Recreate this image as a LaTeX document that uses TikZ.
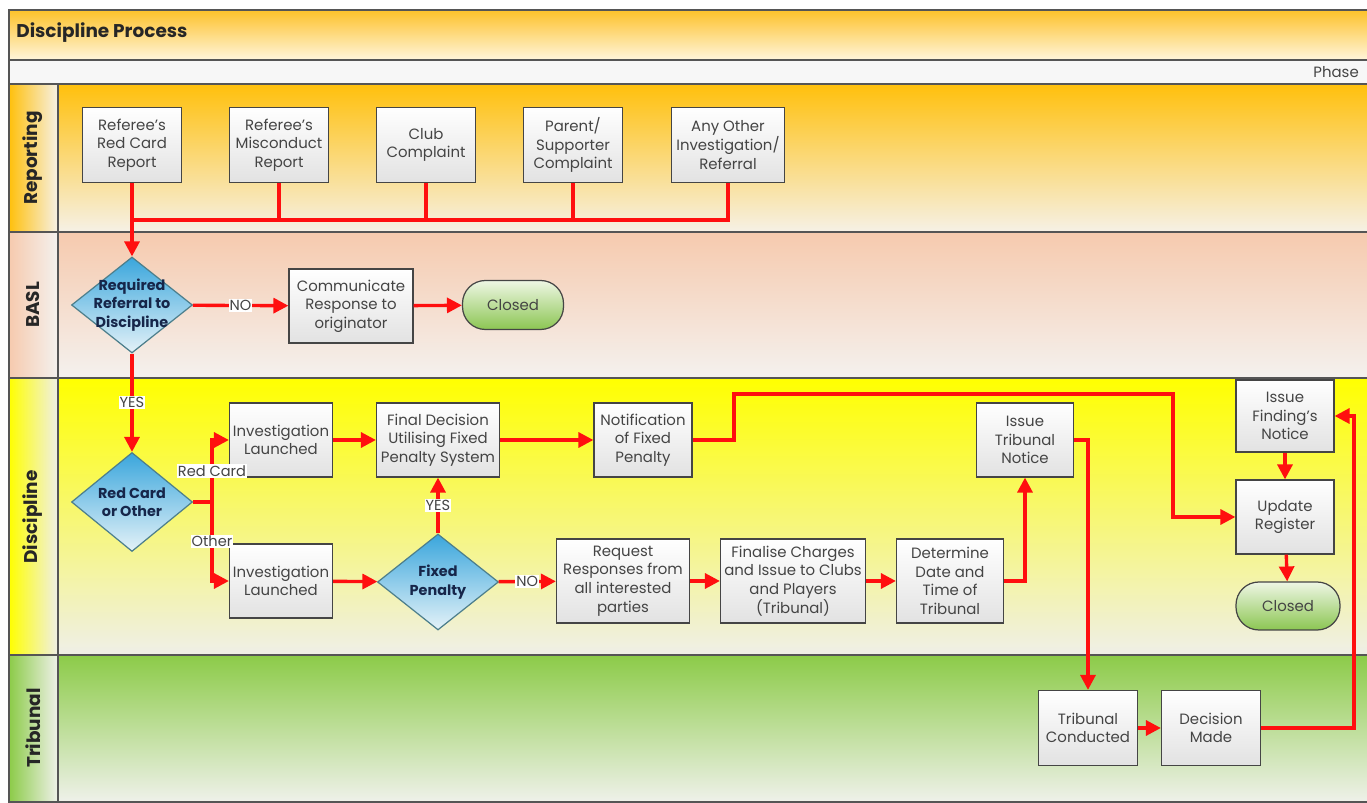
\documentclass[tikz,border=0pt]{standalone}
\usepackage{fontspec}
\setmainfont{Poppins}
\usetikzlibrary{shapes.geometric,arrows.meta,positioning}
\definecolor{flowred}{HTML}{FF0F0F}
\definecolor{boxline}{HTML}{454545}
\definecolor{boxgrey}{HTML}{E2E2E2}
\definecolor{boxtext}{HTML}{444444}
\definecolor{decblue}{HTML}{3AA6DC}
\definecolor{declight}{HTML}{E4F2F8}
\definecolor{decline}{HTML}{4D7F8C}
\definecolor{decnavy}{HTML}{16264A}
\definecolor{termgreen}{HTML}{8CC653}
\definecolor{termlight}{HTML}{EEF6E4}
\definecolor{frameline}{HTML}{555555}
\definecolor{titletop}{HTML}{FDC22A}
\definecolor{titlebot}{HTML}{FFF5DC}
\definecolor{reptop}{HTML}{FFC00C}
\definecolor{repbot}{HTML}{F6F1E6}
\definecolor{basltop}{HTML}{F6CAAE}
\definecolor{baslbot}{HTML}{F4F1EE}
\definecolor{disctop}{HTML}{FFFF00}
\definecolor{discmid}{HTML}{FAFA90}
\definecolor{discbot}{HTML}{EFEFE8}
\definecolor{tribtop}{HTML}{8CCB48}
\definecolor{tribbot}{HTML}{EFF1EA}
\tikzset{
  box/.style={draw=boxline, line width=0.7pt, top color=white, bottom color=boxgrey, text=boxtext,
    align=center, font=\fontsize{8.5}{10.6}\selectfont, minimum width=1.98cm, minimum height=1.5cm, inner sep=1pt},
  dec/.style={diamond, draw=decline, line width=0.7pt, top color=decblue, bottom color=declight,
    minimum width=2.42cm, minimum height=1.92cm, inner sep=0pt},
  dectext/.style={text=decnavy, align=center, font=\bfseries\fontsize{8.2}{10.5}\selectfont},
  term/.style={draw=boxline, line width=0.7pt, rounded corners=13pt, top color=termlight, bottom color=termgreen,
    text=boxtext, font=\fontsize{8.5}{10.6}\selectfont, minimum width=2.02cm, minimum height=0.98cm},
  wire/.style={draw=flowred, line width=1.9pt},
  flow/.style={wire, -{Triangle[length=8.5pt,width=8.5pt]}},
  lbl/.style={fill=white, inner sep=0.6pt, text=boxtext, font=\fontsize{8.3}{9}\selectfont},
  lanehead/.style={rotate=90, text=black!85, font=\bfseries\fontsize{10.5}{12}\selectfont},
  frame/.style={draw=frameline, line width=0.8pt}
}

\begin{document}
\begin{tikzpicture}[x=0.02cm,y=-0.02cm]
   \clip (0,0) rectangle (1367,803);
   \begin{scope}
    \path[top color=titletop, bottom color=titlebot] (9,10) rectangle (1380,60);
    \path[fill=white!97!black] (9,60) rectangle (1380,84);
    \path[top color=reptop, bottom color=repbot] (58,84) rectangle (1380,232);
    \path[top color=basltop, bottom color=baslbot] (58,232) rectangle (1380,378);
    \path[top color=disctop, middle color=discmid, bottom color=discbot] (58,378) rectangle (1380,655);
    \path[top color=tribtop, bottom color=tribbot] (58,655) rectangle (1380,802);
    \path[left color=reptop, right color=repbot] (9,84) rectangle (58,232);
    \path[left color=basltop, right color=baslbot] (9,232) rectangle (58,378);
    \path[left color=disctop, right color=discbot] (9,378) rectangle (58,655);
    \path[left color=tribtop, right color=tribbot] (9,655) rectangle (58,802);
    \draw[frame] (1380,10) -| (9,802) -- (1380,802);
    \foreach \y in {60,84,232,378,655} \draw[frame] (9,\y) -- (1380,\y);
    \draw[frame] (58,84) -- (58,802);
    \node[anchor=west, inner sep=0pt, text=black!85, font=\bfseries\fontsize{10.5}{12}\selectfont] (title) at (16,33) {Discipline Process};
    \node[anchor=east, text=boxtext, font=\fontsize{8.5}{10.6}\selectfont] (phase) at (1365,72) {Phase};
    \node[lanehead] (hrep)  at (33,158) {Reporting};
    \node[lanehead] (hbasl) at (33,305) {BASL};
    \node[lanehead] (hdisc) at (33,517) {Discipline};
    \node[lanehead] (htrib) at (33,728) {Tribunal};
   \end{scope}
   \begin{scope}
    \node[box] (r1) at (132,145) {Referee's\\Red Card\\Report};
    \node[box] (r2) at (279,145) {Referee's\\Misconduct\\Report};
    \node[box] (r3) at (426,145) {Club\\Complaint};
    \node[box] (r4) at (573,145) {Parent/\\Supporter\\Complaint};
    \node[box, minimum width=2.26cm] (r5) at (728,145) {Any Other\\Investigation/\\Referral};
    \coordinate (bus) at (0,220);
    \draw[wire] (r5.south) |- (r1 |- bus);
    \foreach \r in {r2,r3,r4} \draw[wire] (\r.south) -- (\r |- bus);
   \end{scope}
   \begin{scope}
    \node[dec, label={[dectext]center:{Required\\Referral to\\Discipline}}] (req) at (132,305) {};
    \node[box, minimum width=2.48cm, minimum height=1.48cm] (comm) at (351,306) {Communicate\\Response to\\originator};
    \node[term] (closedA) at (513,305) {Closed};
    \draw[flow] (r1) -- (req);
    \draw[flow] (req) -- node[lbl] {NO} (comm);
    \draw[flow] (comm) -- (closedA);
   \end{scope}
   \begin{scope}
    \node[dec, minimum height=1.98cm, label={[dectext]center:{Red Card\\or Other}}] (rco) at (132,502) {};
    \node[box, minimum width=2.06cm, minimum height=1.48cm] (inv1) at (281,440) {Investigation\\Launched};
    \node[box, minimum width=2.06cm, minimum height=1.48cm] (inv2) at (281,581) {Investigation\\Launched};
    \node[box, minimum width=2.46cm, minimum height=1.48cm] (fd) at (438,440) {Final Decision\\Utilising Fixed\\Penalty System};
    \node[box, minimum width=1.96cm, minimum height=1.48cm] (notif) at (643,440) {Notification\\of Fixed\\Penalty};
    \node[dec, label={[dectext]center:{Fixed\\Penalty}}] (fp) at (438,582) {};
    \node[box, minimum width=2.66cm, minimum height=1.68cm] (req2) at (623,581) {Request\\Responses from\\all interested\\parties};
    \node[box, minimum width=2.9cm, minimum height=1.68cm] (fin) at (793,581) {Finalise Charges\\and Issue to Clubs\\and Players\\(Tribunal)};
    \node[box, minimum width=2.14cm, minimum height=1.68cm] (det) at (950,581) {Determine\\Date and\\Time of\\Tribunal};
    \node[box, minimum width=1.94cm, minimum height=1.48cm] (tn) at (1025,440) {Issue\\Tribunal\\Notice};
    \node[box, minimum width=1.96cm, minimum height=1.44cm] (fn) at (1285,416) {Issue\\Finding's\\Notice};
    \node[box, minimum width=1.96cm, minimum height=1.48cm] (upd) at (1285,517) {Update\\Register};
    \node[term, minimum width=2.08cm, minimum height=0.96cm] (closedB) at (1288,606) {Closed};
    \coordinate (split) at (212,502);
    \coordinate (n1) at (734,394);
    \coordinate (n2) at (1173,394);
    \draw[flow] (req) -- node[lbl] {YES} (rco);
    \draw[wire] (rco) -- (split);
    \draw[flow] (split) |- node[lbl, pos=0.25] {Red Card} (inv1);
    \draw[flow] (split) |- node[lbl, pos=0.25] {Other} (inv2);
    \draw[flow] (inv1) -- (fd);
    \draw[flow] (fd) -- (notif);
    \draw[flow] (notif) -| (n1) -- (n2) |- (upd);
    \draw[flow] (inv2) -- (fp);
    \draw[flow] (fp) -- node[lbl] {YES} (fd);
    \draw[flow] (fp) -- node[lbl] {NO} (req2);
    \draw[flow] (req2) -- (fin);
    \draw[flow] (fin) -- (det);
    \draw[flow] (det) -| (tn);
    \draw[flow] (fn) -- (upd);
    \draw[flow] (upd) -- (closedB);
   \end{scope}
   \begin{scope}
    \node[box] (tc) at (1088,728) {Tribunal\\Conducted};
    \node[box] (dm) at (1211,728) {Decision\\Made};
    \coordinate (rt) at (1354,416);
    \draw[flow] (tn) -| (tc);
    \draw[flow] (tc) -- (dm);
    \draw[flow] (dm) -| (rt) -- (fn);
   \end{scope}
  \end{tikzpicture}
\end{document}
